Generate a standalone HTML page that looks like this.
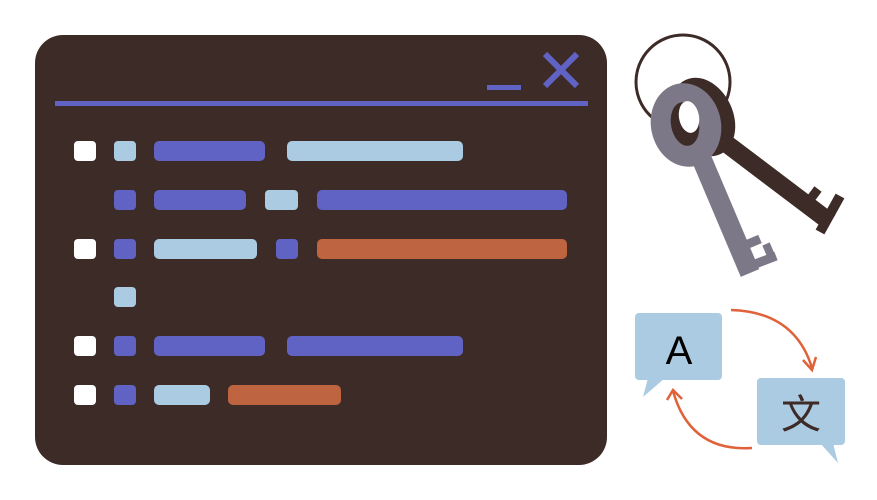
<!DOCTYPE html>
<html><head><meta charset="utf-8"><style>
html,body{margin:0;padding:0;background:#fff;width:877px;height:500px;overflow:hidden}
</style></head><body>
<svg width="877" height="500" xmlns="http://www.w3.org/2000/svg">
<rect x="35" y="35" width="572" height="430" rx="28" fill="#3d2b27"/>
<rect x="55" y="101" width="533" height="5" fill="#6163c4"/>
<rect x="487" y="85" width="34" height="5" fill="#6163c4"/>
<path d="M545 54 L577 86 M577 54 L545 86" stroke="#6163c4" stroke-width="6"/>
<g fill="#fff">
<rect x="74" y="141" width="22" height="20" rx="4"/>
<rect x="74" y="239" width="22" height="20" rx="4"/>
<rect x="74" y="336" width="22" height="20" rx="4"/>
<rect x="74" y="385" width="22" height="20" rx="4"/>
</g>
<g fill="#aacbe2">
<rect x="114" y="141" width="22" height="20" rx="4"/>
<rect x="287" y="141" width="176" height="20" rx="5"/>
<rect x="265" y="190" width="33" height="20" rx="4"/>
<rect x="154" y="239" width="103" height="20" rx="5"/>
<rect x="114" y="287" width="22" height="20" rx="4"/>
<rect x="154" y="385" width="56" height="20" rx="5"/>
</g>
<g fill="#6163c4">
<rect x="154" y="141" width="111" height="20" rx="5"/>
<rect x="114" y="190" width="22" height="20" rx="4"/>
<rect x="154" y="190" width="92" height="20" rx="5"/>
<rect x="317" y="190" width="250" height="20" rx="5"/>
<rect x="114" y="239" width="22" height="20" rx="4"/>
<rect x="276" y="239" width="22" height="20" rx="4"/>
<rect x="114" y="336" width="22" height="20" rx="4"/>
<rect x="154" y="336" width="111" height="20" rx="5"/>
<rect x="287" y="336" width="176" height="20" rx="5"/>
<rect x="114" y="385" width="22" height="20" rx="4"/>
</g>
<g fill="#bf6440">
<rect x="317" y="239" width="250" height="20" rx="5"/>
<rect x="228" y="385" width="113" height="20" rx="5"/>
</g>
<!-- keys -->
<circle cx="683" cy="82" r="47" fill="none" stroke="#3d2b27" stroke-width="3"/>
<g stroke="#3d2b27" stroke-linecap="butt" fill="none">
<line x1="715" y1="135" x2="830" y2="222" stroke-width="18"/>
<line x1="806" y1="205" x2="818" y2="189" stroke-width="9"/>
<line x1="820" y1="232" x2="840" y2="196" stroke-width="10"/>
</g>
<ellipse cx="703" cy="117" rx="30" ry="41" transform="rotate(-25 703 117)" fill="#3d2b27"/>
<g stroke="#7d7888" stroke-linecap="butt" fill="none">
<line x1="700" y1="155" x2="750" y2="273" stroke-width="20"/>
<line x1="748" y1="244" x2="760" y2="239" stroke-width="9"/>
<line x1="750" y1="266" x2="776" y2="256" stroke-width="9"/>
<line x1="766" y1="244" x2="772" y2="258" stroke-width="8"/>
</g>
<ellipse cx="686" cy="125" rx="35" ry="42" transform="rotate(-12 686 125)" fill="#7d7888"/>
<ellipse cx="685" cy="124" rx="14" ry="22" transform="rotate(-10 685 124)" fill="#3d2b27"/>
<ellipse cx="689" cy="117" rx="10" ry="16" transform="rotate(-10 689 117)" fill="#fff"/>
<!-- translate -->
<rect x="635" y="313" width="87" height="67" rx="4" fill="#aacbe2"/>
<path d="M648 378 L643 397 L665 378 Z" fill="#aacbe2"/>
<rect x="757" y="378" width="88" height="67" rx="4" fill="#aacbe2"/>
<path d="M820 443 L838 463 L833 443 Z" fill="#aacbe2"/>
<text x="679" y="364" font-family="Liberation Sans, sans-serif" font-size="40" text-anchor="middle" fill="#000">A</text>
<text x="801" y="428" font-family="'Noto Sans CJK SC', sans-serif" font-size="40" text-anchor="middle" fill="#3d2b27">文</text>
<g fill="none" stroke="#e0623a" stroke-width="2.5">
<path d="M731 310 Q795 312 812 368"/>
<path d="M803 360 L812 370 L816 357"/>
<path d="M752 448 Q690 452 673 391"/>
<path d="M667 400 L673 390 L682 399"/>
</g>
</svg>
</body></html>
